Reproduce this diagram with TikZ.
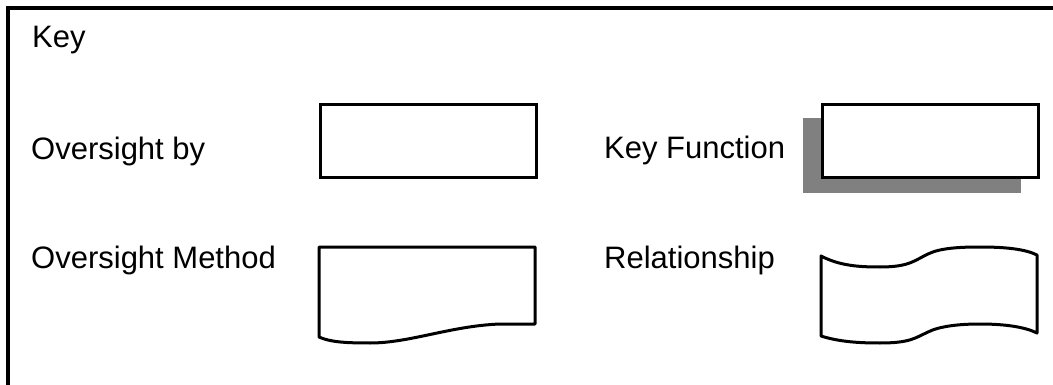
\documentclass[tikz,border=0pt]{standalone}
\usepackage{fontspec}
\setmainfont{Liberation Sans}
\definecolor{shadowgray}{RGB}{128,128,128}
\begin{document}
\begin{tikzpicture}[x=1pt,y=-1pt,
  lbl/.style={anchor=base west,inner sep=0pt,font=\fontsize{31}{37}\selectfont},
  keybox/.style={draw=black,line width=3pt,fill=white,anchor=north west,inner sep=0pt,minimum width=216pt,minimum height=73pt},
  outlineshape/.style={draw=black,line width=3pt,fill=white,line join=round}]
\useasboundingbox (0,0) rectangle (1053,385);
\fill[white] (0,0) rectangle (1053,385);
% frame
\draw[line width=3.2pt] (1053,8) -- (8,8) -- (8,385);
% labels
\node[lbl] (key) at (32,48) {Key};
\node[lbl] (ovby) at (31,160) {Oversight by};
\node[lbl] (ovm) at (31,269) {Oversight Method};
\node[lbl] (kf) at (604,159) {Key Function};
\node[lbl] (rel) at (604,269) {Relationship};
% oversight by box
\node[keybox] (box1) at (319,103) {};
% key function with shadow
\fill[shadowgray] (803,118) rectangle (1021,193);
\node[keybox] (box2) at (821,103) {};
% document shape
\draw[outlineshape] (319,247) -- (535,247) -- (535,324) -- (500,324)
  .. controls (450,326) and (410,343) .. (370,343)
  .. controls (345,343) and (330,342) .. (319,337) -- cycle;
% tape shape
\draw[outlineshape] (821,256)
  .. controls (840,266) and (860,267) .. (880,267)
  .. controls (910,267) and (915,260) .. (928,254)
  .. controls (940,248) and (960,247) .. (980,247)
  .. controls (1005,247) and (1025,249) .. (1037,255)
  -- (1037,333)
  .. controls (1025,327) and (1005,324) .. (980,324)
  .. controls (960,324) and (940,326) .. (928,332)
  .. controls (915,338) and (910,343) .. (880,343)
  .. controls (860,343) and (840,342) .. (821,336) -- cycle;
\end{tikzpicture}
\end{document}
